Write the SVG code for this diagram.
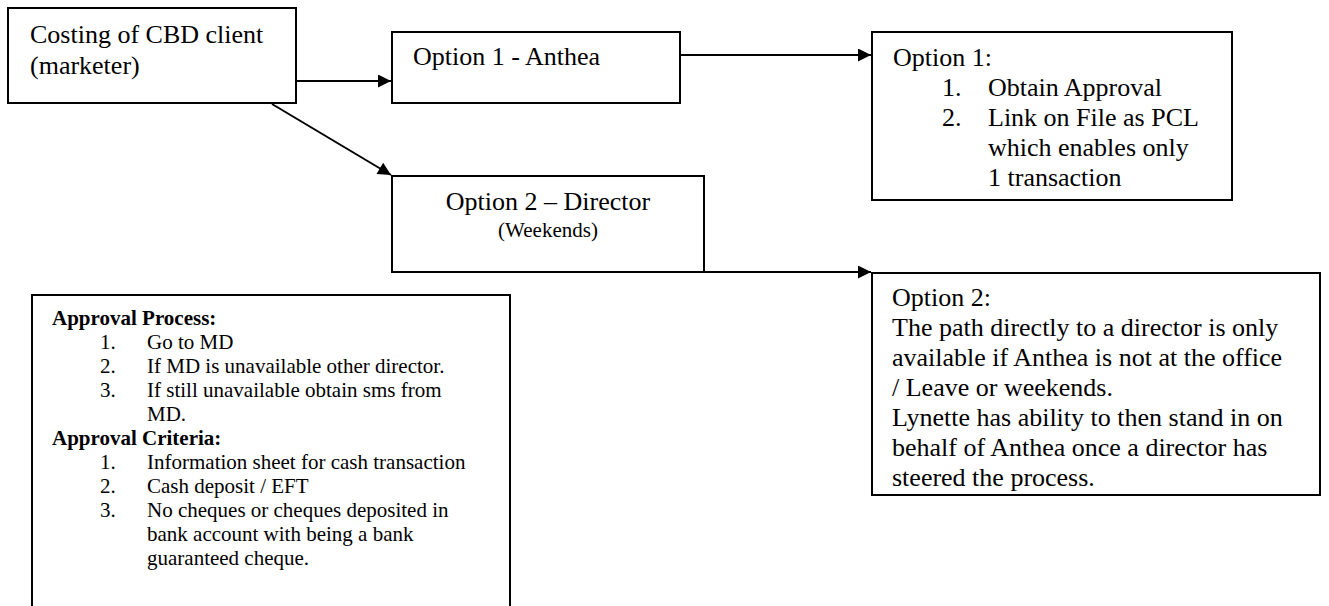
<svg xmlns="http://www.w3.org/2000/svg" width="1329" height="606" viewBox="0 0 1329 606">
<style>
.box{fill:#fff;stroke:#000;stroke-width:2}
.t{font-family:"Liberation Serif","Times New Roman",serif;font-size:26px;fill:#000}
.s{font-family:"Liberation Serif","Times New Roman",serif;font-size:21px;fill:#000}
.b{font-weight:bold}
.c{stroke:#000;stroke-width:2;fill:none}
</style>
<defs>
<marker id="ah" viewBox="0 0 10 10" refX="10" refY="5" markerWidth="7" markerHeight="6.5" markerUnits="strokeWidth" orient="auto">
<path d="M0,0 L10,5 L0,10 Z" fill="#000"/>
</marker>
</defs>
<g id="connectors">
<line class="c" x1="296" y1="81" x2="391" y2="81" marker-end="url(#ah)"/>
<line class="c" x1="680" y1="55" x2="871" y2="55" marker-end="url(#ah)"/>
<line class="c" x1="272" y1="104" x2="391" y2="175" marker-end="url(#ah)"/>
<line class="c" x1="704" y1="272" x2="871" y2="272" marker-end="url(#ah)"/>
</g>
<g id="costing">
<rect class="box" x="8" y="8" width="288" height="95"/>
<text class="t" x="30" y="43">Costing of CBD client</text>
<text class="t" x="30" y="74">(marketer)</text>
</g>
<g id="option1">
<rect class="box" x="392" y="32" width="288" height="71"/>
<text class="t" x="413" y="65">Option 1 - Anthea</text>
</g>
<g id="option1-detail">
<rect class="box" x="872" y="32" width="360" height="168"/>
<text class="t" x="893" y="66">Option 1:</text>
<text class="t" x="942" y="96">1.</text>
<text class="t" x="988" y="96">Obtain Approval</text>
<text class="t" x="942" y="126">2.</text>
<text class="t" x="988" y="126">Link on File as PCL</text>
<text class="t" x="988" y="156">which enables only</text>
<text class="t" x="988" y="186">1 transaction</text>
</g>
<g id="option2">
<rect class="box" x="392" y="176" width="312" height="96"/>
<text class="t" x="548" y="210" text-anchor="middle">Option 2 – Director</text>
<text class="s" x="548" y="237" text-anchor="middle">(Weekends)</text>
</g>
<g id="option2-detail">
<rect class="box" x="872" y="273" width="448" height="222"/>
<text class="t" x="892" y="306">Option 2:</text>
<text class="t" x="892" y="336">The path directly to a director is only</text>
<text class="t" x="892" y="366">available if Anthea is not at the office</text>
<text class="t" x="892" y="396">/ Leave or weekends.</text>
<text class="t" x="892" y="426">Lynette has ability to then stand in on</text>
<text class="t" x="892" y="456">behalf of Anthea once a director has</text>
<text class="t" x="892" y="486">steered the process.</text>
</g>
<g id="approval">
<rect class="box" x="32" y="295" width="478" height="330"/>
<text class="s b" x="52" y="325">Approval Process:</text>
<text class="s" x="100" y="349">1.</text><text class="s" x="147" y="349">Go to MD</text>
<text class="s" x="100" y="373">2.</text><text class="s" x="147" y="373">If MD is unavailable other director.</text>
<text class="s" x="100" y="397">3.</text><text class="s" x="147" y="397">If still unavailable obtain sms from</text>
<text class="s" x="147" y="421">MD.</text>
<text class="s b" x="52" y="445">Approval Criteria:</text>
<text class="s" x="100" y="469">1.</text><text class="s" x="147" y="469">Information sheet for cash transaction</text>
<text class="s" x="100" y="493">2.</text><text class="s" x="147" y="493">Cash deposit / EFT</text>
<text class="s" x="100" y="517">3.</text><text class="s" x="147" y="517">No cheques or cheques deposited in</text>
<text class="s" x="147" y="541">bank account with being a bank</text>
<text class="s" x="147" y="565">guaranteed cheque.</text>
</g>
</svg>
